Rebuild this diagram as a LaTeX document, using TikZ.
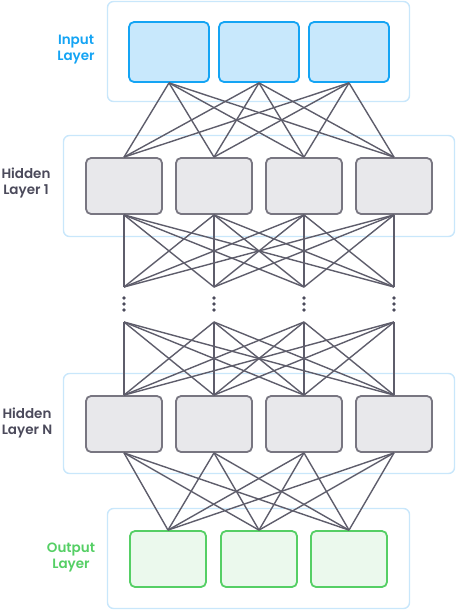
\documentclass[tikz,border=0pt]{standalone}
\usepackage{fontspec}
\setsansfont{Poppins}[BoldFont = * SemiBold]
\usetikzlibrary{positioning}

\definecolor{frameblue}{HTML}{C9E7FB}
\definecolor{inblue}{HTML}{14A4F4}
\definecolor{infill}{HTML}{C8E8FC}
\definecolor{hidgray}{HTML}{787681}
\definecolor{hidfill}{HTML}{E8E8EB}
\definecolor{outgreen}{HTML}{55CF65}
\definecolor{outfill}{HTML}{EBF9ED}
\definecolor{linkgray}{HTML}{5E5D6B}
\definecolor{labelgray}{HTML}{4B4A5B}

\begin{document}
\begin{tikzpicture}[x=1pt, y=-1pt]
    \tikzset{
        layer frame/.style={draw=frameblue, line width=1.4pt, rounded corners=6pt},
        unit/.style={rectangle, rounded corners=5pt, line width=1.8pt, inner sep=0pt,
                minimum width=76pt, minimum height=56pt},
        input unit/.style={unit, draw=inblue, fill=infill, minimum width=80pt, minimum height=60pt},
        hidden unit/.style={unit, draw=hidgray, fill=hidfill},
        output unit/.style={unit, draw=outgreen, fill=outfill},
        link/.style={draw=linkgray, line width=1.4pt},
        layer label/.style={font=\sffamily\bfseries\fontsize{13.5}{16}\selectfont, align=center}
    }
    \useasboundingbox (0,0) rectangle (456,611);

    % layer frames
    \draw[layer frame] (107.5,1.5) rectangle (409.5,101.5);
    \draw[layer frame] (63.5,135.5) rectangle (454.5,236.5);
    \draw[layer frame] (63.5,373.5) rectangle (454.5,473.5);
    \draw[layer frame] (107.5,508.5) rectangle (409.5,608.5);

    % layer labels
    \node[layer label, text=inblue] (lin) at (76,50) {Input\\Layer};
    \node[layer label, text=labelgray] (lh1) at (26,183) {Hidden\\Layer 1};
    \node[layer label, text=labelgray] (lhn) at (27,423) {Hidden\\Layer N};
    \node[layer label, text=outgreen] (lout) at (71,557) {Output\\Layer};

    % units
    \foreach \i/\x in {1/169, 2/259, 3/349}
        \node[input unit] (in\i) at (\x,52) {};
    \foreach \i/\x in {1/124, 2/214, 3/304, 4/394} {
        \node[hidden unit] (ha\i) at (\x,186) {};
        \node[hidden unit] (hn\i) at (\x,424) {};
        \coordinate (ta\i) at (\x,287);
        \coordinate (tb\i) at (\x,322);
        \foreach \y in {298, 304, 310}
            \fill[labelgray] (\x,\y) circle (1.8pt);
    }
    \foreach \i/\x in {1/168, 2/259, 3/349}
        \node[output unit] (out\i) at (\x,559) {};

    % connections
    \foreach \i in {1,2,3}
        \foreach \j in {1,2,3,4} {
            \draw[link] (in\i.south) -- (ha\j.north);
            \draw[link] (hn\j.south) -- (out\i.north);
        }
    \foreach \i in {1,2,3,4}
        \foreach \j in {1,2,3,4} {
            \draw[link] (ha\i.south) -- (ta\j);
            \draw[link] (tb\i) -- (hn\j.north);
        }
\end{tikzpicture}
\end{document}
